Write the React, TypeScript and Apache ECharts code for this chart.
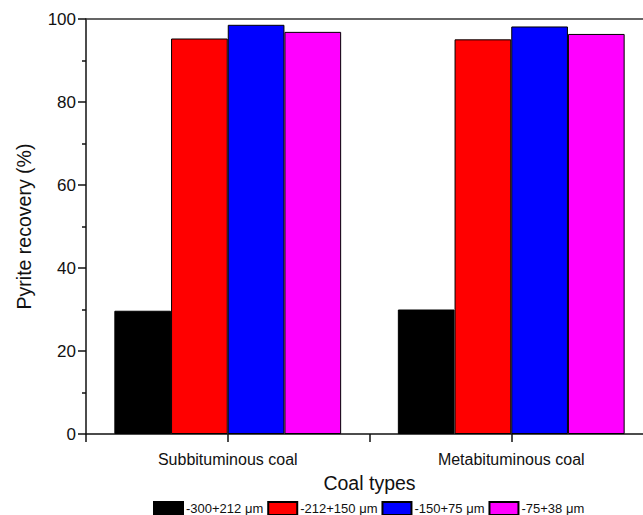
import React, { useEffect, useRef } from "react";
import * as echarts from "echarts";

const categories = ["Subbituminous coal", "Metabituminous coal"];
const seriesNames = ["-300+212 μm", "-212+150 μm", "-150+75 μm", "-75+38 μm"];
const seriesColors = ["#000000", "#ff0000", "#0000ff", "#ff00ff"];
const size300_212 = [29.7, 30.0];
const size212_150 = [95.3, 95.1];
const size150_75 = [98.6, 98.2];
const size75_38 = [96.9, 96.4];
const seriesValues = [size300_212, size212_150, size150_75, size75_38];
const yTicks = [0, 20, 40, 60, 80, 100];

export default function App() {
  const ref = useRef<HTMLDivElement>(null);
  useEffect(() => {
    if (!ref.current) return;
    const chart = echarts.init(ref.current, undefined, { renderer: "svg" });
    const font = "Liberation Sans, Arial, sans-serif";
    chart.setOption({
      animation: false,
      backgroundColor: "#ffffff",
      textStyle: { fontFamily: font },
      grid: { left: 86, right: 47, top: 19, bottom: 81, containLabel: false },
      legend: {
        bottom: -1,
        left: 153,
        padding: 0,
        itemWidth: 29,
        itemHeight: 13,
        itemGap: 4,
        icon: "rect",
        textStyle: { fontSize: 13, color: "#111", fontFamily: font, padding: [0, 0, 0, -2] },
        data: seriesNames,
      },
      xAxis: [
        {
          type: "category",
          data: categories,
          position: "bottom",
          name: "Coal types",
          nameLocation: "middle",
          nameGap: 39,
          nameTextStyle: { fontSize: 19.5, color: "#111", fontFamily: font },
          axisLine: { show: true, lineStyle: { color: "#111", width: 1.5 } },
          axisTick: { show: true, alignWithLabel: false, length: 8, lineStyle: { color: "#111", width: 1.5 } },
          axisLabel: { fontSize: 16, color: "#111", margin: 17, fontFamily: font },
          splitLine: { show: false },
        },
        {
          type: "category",
          data: categories,
          position: "bottom",
          axisLine: { show: false },
          axisTick: { show: true, alignWithLabel: true, length: 8, lineStyle: { color: "#111", width: 1.5 } },
          axisLabel: { show: false },
          splitLine: { show: false },
        },
        {
          type: "category",
          data: categories,
          position: "top",
          axisLine: { show: true, lineStyle: { color: "#333", width: 1.5 } },
          axisTick: { show: false },
          axisLabel: { show: false },
          splitLine: { show: false },
        },
      ],
      yAxis: {
        type: "value",
        min: yTicks[0],
        max: yTicks[yTicks.length - 1],
        interval: 20,
        name: "Pyrite recovery (%)",
        nameLocation: "middle",
        nameGap: 52,
        nameTextStyle: { fontSize: 19.5, color: "#111", fontFamily: font },
        axisLine: { show: true, lineStyle: { color: "#111", width: 1.5 } },
        axisTick: { show: true, length: 8, lineStyle: { color: "#111", width: 1.5 } },
        minorTick: { show: true, splitNumber: 2, length: 4, lineStyle: { color: "#111", width: 1.5 } },
        axisLabel: { fontSize: 17, color: "#111", margin: 10, fontFamily: font },
        splitLine: { show: false },
      },
      series: seriesNames.map((name, i) => ({
        name,
        type: "bar",
        xAxisIndex: 0,
        data: seriesValues[i],
        barGap: "0%",
        barCategoryGap: "20%",
        itemStyle: { color: seriesColors[i], borderColor: "#000", borderWidth: 1 },
      })),
    });
    return () => chart.dispose();
  }, []);
  return (
    <div style={{ position: "absolute", left: 0, top: 0, width: 643, height: 515, overflow: "hidden" }}>
      <div ref={ref} style={{ width: 700, height: 515 }} />
    </div>
  );
}
